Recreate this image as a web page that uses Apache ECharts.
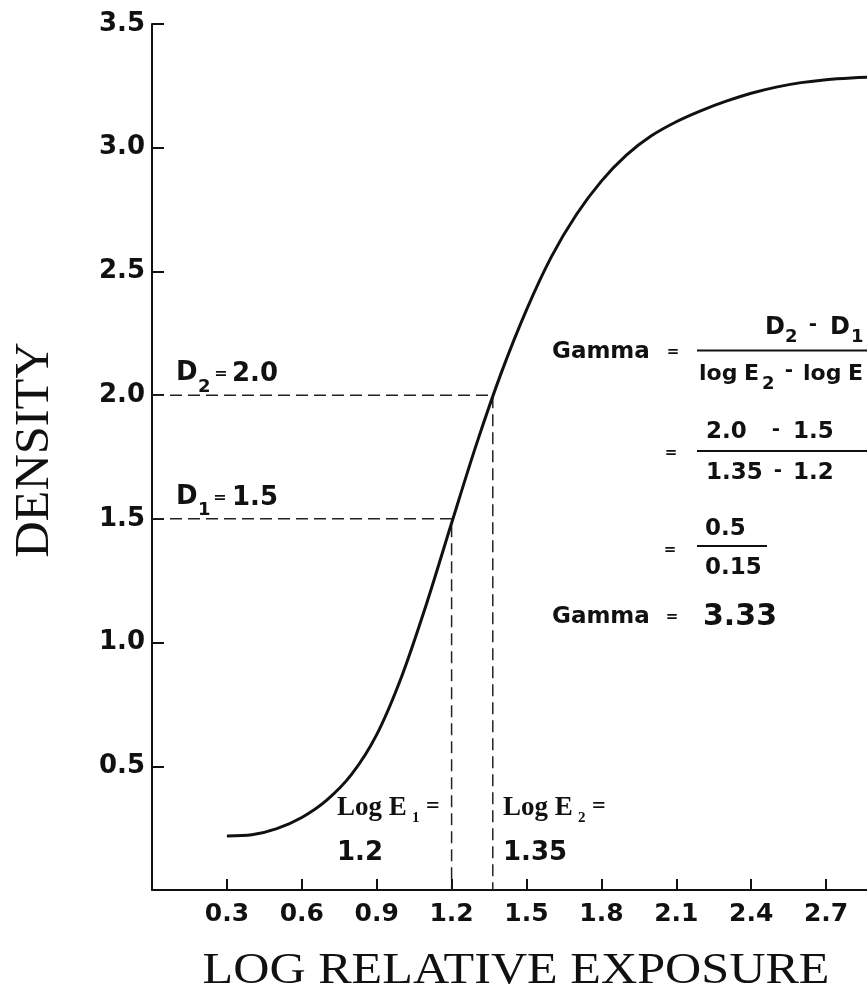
<!DOCTYPE html>
<html><head><meta charset="utf-8">
<script src="https://cdn.jsdelivr.net/npm/echarts@6/dist/echarts.min.js"></script>
<style>html,body{margin:0;padding:0;background:#fff}#c{width:867px;height:997px}</style>
</head><body><div id="c"></div>
<script>
// ---- data ----
const xTickValues = [0.3, 0.6, 0.9, 1.2, 1.5, 1.8, 2.1, 2.4, 2.7];
const xTickLabels = ['0.3', '0.6', '0.9', '1.2', '1.5', '1.8', '2.1', '2.4', '2.7'];
const yTickValues = [0.5, 1.0, 1.5, 2.0, 2.5, 3.0, 3.5];
const yTickLabels = ['0.5', '1.0', '1.5', '2.0', '2.5', '3.0', '3.5'];

// characteristic (H&D) curve
const curveX = [0.3, 0.4, 0.5, 0.6, 0.7, 0.8, 0.9, 1.0, 1.1, 1.2, 1.3, 1.4, 1.5, 1.6, 1.7, 1.8, 1.9, 2.0, 2.1, 2.2, 2.3, 2.4, 2.5, 2.6, 2.7, 2.8, 2.9, 3.0];
const curveY = [0.218, 0.223, 0.248, 0.293, 0.363, 0.468, 0.628, 0.863, 1.158, 1.483, 1.803, 2.093, 2.345, 2.56, 2.73, 2.865, 2.97, 3.048, 3.105, 3.15, 3.188, 3.22, 3.245, 3.263, 3.275, 3.282, 3.286, 3.288];

const densities = [1.5, 2.0];        // D1, D2
const logExposures = [1.2, 1.35];    // log E1, log E2 (as labelled)
const guideX = [1.2, 1.365];         // where the dashed verticals sit in the picture

const gamma = (densities[1] - densities[0]) / (logExposures[1] - logExposures[0]);

// ---- chart ----
const SANS = '"DejaVu Sans", sans-serif';
const SERIF = '"Liberation Serif", "Times New Roman", serif';
const INK = '#111';

function txt(text, x, y, font, align, extra) {
  align = align || 'left';
  const el = { type: 'text', x: x, y: y, silent: true,
    style: { text: text, font: font, fill: INK, textAlign: align, textVerticalAlign: 'middle', align: align, verticalAlign: 'middle' } };
  return Object.assign(el, extra || {});
}
function hline(x1, x2, y) {
  return { type: 'line', silent: true, shape: { x1: x1, y1: y, x2: x2, y2: y }, style: { stroke: INK, lineWidth: 2 } };
}
function fmt(vals, labels) {
  return function (v) {
    const i = vals.findIndex(t => Math.abs(t - v) < 1e-6);
    return i >= 0 ? labels[i] : '';
  };
}

const guideSeries = densities.map((d, i) => ({
  type: 'line', symbol: 'none', silent: true, z: 1,
  data: [[0, d], [guideX[i], d], [guideX[i], 0]],
  lineStyle: { color: '#222', width: 1.5, type: [12, 6] }
}));

const B = 'bold ';
const graphics = [
  // axis titles
  txt('DENSITY', 35, 450, '48px ' + SERIF, 'center', { rotation: Math.PI / 2, scaleX: 1.05 }),
  txt('LOG RELATIVE EXPOSURE', 516, 971, '44px ' + SERIF, 'center', { scaleX: 1.14 }),

  // D2 = 2.0
  txt('D', 176, 373, B + '26px ' + SANS),
  txt('2', 198, 387, B + '18px ' + SANS),
  txt('=', 221, 374, B + '16px ' + SANS, 'center'),
  txt(densities[1].toFixed(1), 232, 374, B + '26px ' + SANS),
  // D1 = 1.5
  txt('D', 176, 497, B + '26px ' + SANS),
  txt('1', 198, 510, B + '18px ' + SANS),
  txt('=', 220, 498, B + '16px ' + SANS, 'center'),
  txt(densities[0].toFixed(1), 232, 498, B + '26px ' + SANS),

  // Log E1 = 1.2
  txt('Log E', 337, 808, B + '27px ' + SERIF),
  txt('1', 412, 818, B + '15px ' + SERIF),
  txt('=', 426, 807, B + '24px ' + SERIF),
  txt(String(logExposures[0]), 337, 853, B + '26px ' + SANS),
  // Log E2 = 1.35
  txt('Log E', 503, 808, B + '27px ' + SERIF),
  txt('2', 578, 818, B + '15px ' + SERIF),
  txt('=', 592, 807, B + '24px ' + SERIF),
  txt(String(logExposures[1]), 503, 853, B + '26px ' + SANS),

  // Gamma = (D2 - D1)/(log E2 - log E1)
  txt('Gamma', 552, 352, B + '23px ' + SANS),
  txt('=', 673, 352, B + '15px ' + SANS, 'center'),
  hline(697, 940, 350.5),
  txt('D', 765, 328, B + '24px ' + SANS),
  txt('2', 785, 337, B + '18px ' + SANS),
  txt('-', 813, 325, B + '20px ' + SANS, 'center'),
  txt('D', 830, 328, B + '24px ' + SANS),
  txt('1', 851, 337, B + '18px ' + SANS),
  txt('log', 699, 374, B + '22px ' + SANS),
  txt('E', 744, 374, B + '22px ' + SANS),
  txt('2', 762, 384, B + '18px ' + SANS),
  txt('-', 789, 371, B + '20px ' + SANS, 'center'),
  txt('log', 803, 374, B + '22px ' + SANS),
  txt('E', 848, 374, B + '22px ' + SANS),
  txt('1', 866, 384, B + '18px ' + SANS),

  // = (2.0 - 1.5)/(1.35 - 1.2)
  txt('=', 671, 453, B + '15px ' + SANS, 'center'),
  txt(densities[1].toFixed(1), 706, 432, B + '23px ' + SANS),
  txt('-', 776, 430, B + '20px ' + SANS, 'center'),
  txt(densities[0].toFixed(1), 793, 432, B + '23px ' + SANS),
  hline(697, 940, 451),
  txt(String(logExposures[1]), 706, 473, B + '23px ' + SANS),
  txt('-', 778, 471, B + '20px ' + SANS, 'center'),
  txt(String(logExposures[0]), 793, 473, B + '23px ' + SANS),

  // = 0.5 / 0.15
  txt('=', 670, 550, B + '15px ' + SANS, 'center'),
  txt((densities[1] - densities[0]).toFixed(1), 705, 529, B + '23px ' + SANS),
  hline(697, 767, 546),
  txt((logExposures[1] - logExposures[0]).toFixed(2), 705, 568, B + '23px ' + SANS),

  // Gamma = 3.33
  txt('Gamma', 552, 617, B + '23px ' + SANS),
  txt('=', 672, 617, B + '15px ' + SANS, 'center'),
  txt(gamma.toFixed(2), 703, 617, B + '30px ' + SANS)
];

const chart = echarts.init(document.getElementById('c'), null, { renderer: 'canvas' });
chart.setOption({
  animation: false,
  backgroundColor: '#fff',
  grid: { left: 152, top: 24, width: 749, height: 866, containLabel: false, outerBoundsMode: 'none' },
  xAxis: {
    type: 'value', min: 0, max: 3.0, interval: 0.3,
    axisLine: { lineStyle: { color: INK, width: 2 } },
    axisTick: { inside: true, length: 11, lineStyle: { color: INK, width: 2 } },
    axisLabel: { formatter: fmt(xTickValues, xTickLabels), color: INK, fontFamily: 'DejaVu Sans', fontWeight: 'bold', fontSize: 25, margin: 12 },
    splitLine: { show: false }
  },
  yAxis: {
    type: 'value', min: 0, max: 3.5, interval: 0.5,
    axisLine: { show: true, lineStyle: { color: INK, width: 2 } },
    axisTick: { show: true, inside: true, length: 12, lineStyle: { color: INK, width: 2 } },
    axisLabel: { formatter: fmt(yTickValues, yTickLabels), color: INK, fontFamily: 'DejaVu Sans', fontWeight: 'bold', fontSize: 26, margin: 7 },
    splitLine: { show: false }
  },
  series: [
    ...guideSeries,
    {
      type: 'line', symbol: 'none', smooth: 0.3, silent: true, z: 3,
      data: curveX.map((x, i) => [x, curveY[i]]),
      lineStyle: { color: INK, width: 3 }
    }
  ],
  graphic: { elements: graphics }
});
</script>
</body></html>
